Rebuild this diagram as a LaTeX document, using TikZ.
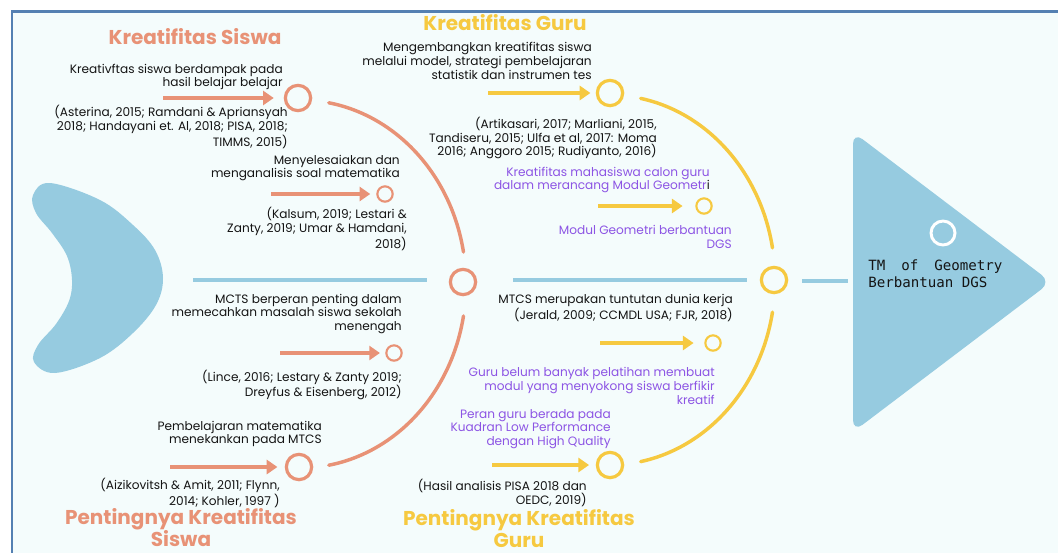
\documentclass[tikz,border=0pt]{standalone}
\usepackage{fontspec}
\setmainfont{Poppins}
\newfontfamily\tmfont{DejaVu Sans Mono}
\usetikzlibrary{arrows.meta,calc}
\definecolor{bg}{RGB}{244,252,252}
\definecolor{framec}{RGB}{84,128,178}
\definecolor{sky}{RGB}{150,203,224}
\definecolor{salmon}{RGB}{232,146,118}
\definecolor{gold}{RGB}{246,201,64}
\definecolor{violet}{RGB}{140,84,228}
\definecolor{ink}{RGB}{20,20,20}
\begin{document}
\begin{tikzpicture}[x=0.75pt,y=-0.75pt,
  body/.style={font=\fontsize{9.1}{10.2}\selectfont, text=ink, align=right, anchor=east, inner sep=0pt},
  purp/.style={body, text=violet},
  titletext/.style={font=\fontsize{15}{16.5}\selectfont\bfseries, align=center, inner sep=0pt},
  bigO/.style={circle, draw=salmon, line width=2.4pt, minimum size=19pt, inner sep=0pt},
  smallO/.style={circle, draw=salmon, line width=1.6pt, minimum size=11.5pt, inner sep=0pt},
  bigY/.style={circle, draw=gold, line width=2.4pt, minimum size=19pt, inner sep=0pt},
  smallY/.style={circle, draw=gold, line width=1.6pt, minimum size=11.5pt, inner sep=0pt},
  arrO/.style={draw=salmon, line width=3.6pt, -{Triangle[length=8pt,width=10.5pt]}},
  arrY/.style={draw=gold, line width=3.6pt, -{Triangle[length=8pt,width=10.5pt]}},
  arcO/.style={draw=salmon, line width=2.6pt, line cap=round},
  arcY/.style={draw=gold, line width=2.6pt, line cap=round},
  spine/.style={draw=sky, line width=2.4pt},
]
\useasboundingbox (0,0) rectangle (1058,553);
% background and frame
\fill[white] (0,0) rectangle (1058,553);
\fill[bg] (12,12) rectangle (1058,553);
\draw[framec, line width=1.6pt] (12,553) -- (12,11.5) -- (1058,11.5);

% fish tail
\fill[sky] plot[smooth cycle, tension=0.6] coordinates {
  (50,183) (100,200) (133,225) (155,250) (163,278) (156,305) (133,333)
  (100,358) (55,373) (34,362) (38,345) (56,324) (69,301) (72,280)
  (67,256) (52,233) (36,213) (33,195)};

% fish head
\fill[sky, rounded corners=9pt] (853,132) -- (1051,282) -- (853,432) -- cycle;
\node[circle, draw=white, line width=2.2pt, minimum size=18pt, inner sep=0pt] (headc) at (943,233) {};
\node[font=\tmfont\fontsize{10.6}{12.8}\selectfont, text=ink, align=left, anchor=west, inner sep=0pt] (head) at (868,274)
  {TM\hspace{12pt}of\hspace{12pt}Geometry\\Berbantuan DGS};

% spine
\coordinate (sa) at (193,280); \coordinate (sb) at (427,280);
\coordinate (sc) at (513,280); \coordinate (sd) at (747,280);
\coordinate (se) at (802,281); \coordinate (sf) at (848,281);
\draw[spine] (sa) -- (sb);
\draw[spine] (sc) -- (sd);
\draw[spine] (se) -- (sf);

% circles
\node[bigO] (oTop) at (298,98) {};
\node[smallO] (oS1) at (385,194) {};
\node[bigO] (oMid) at (463,282) {};
\node[smallO] (oS2) at (394,353) {};
\node[bigO] (oBot) at (299,467) {};
\node[bigY] (yTop) at (610,93) {};
\node[smallY] (yS1) at (704,206) {};
\node[bigY] (yMid) at (774,280) {};
\node[smallY] (yS2) at (713,343) {};
\node[bigY] (yBot) at (610,465) {};

% arcs
\coordinate (oE) at (300,284);
\coordinate (yE) at (609,280);
\draw[arcO] (oE) ++(-80:166 and 184) arc[start angle=-80, end angle=-10, x radius=166, y radius=184];
\draw[arcO] (oE) ++(10:166 and 184) arc[start angle=10, end angle=80, x radius=166, y radius=184];
\draw[arcY] (yE) ++(-79:166 and 185) arc[start angle=-79, end angle=-10, x radius=166, y radius=185];
\draw[arcY] (yE) ++(10:166 and 185) arc[start angle=10, end angle=79, x radius=166, y radius=185];

% arrows
\coordinate (a1) at (163,98);
\coordinate (a2) at (271,194);
\coordinate (a3) at (280,353);
\coordinate (a4) at (170,467);
\coordinate (b1) at (488,93);
\coordinate (b2) at (598,206);
\coordinate (b3) at (600,343);
\coordinate (b4) at (492,465);
\draw[arrO, shorten >=7.5pt] (a1) -- (oTop);
\draw[arrO, shorten >=4.5pt] (a2) -- (oS1);
\draw[arrO, shorten >=4pt] (a3) -- (oS2);
\draw[arrO, shorten >=5.5pt] (a4) -- (oBot);
\draw[arrY, shorten >=4pt] (b1) -- (yTop);
\draw[arrY, shorten >=9.5pt] (b2) -- (yS1);
\draw[arrY, shorten >=8pt] (b3) -- (yS2);
\draw[arrY, shorten >=5pt] (b4) -- (yBot);

% titles
\node[titletext, text=salmon] (t1) at (195,37) {Kreatifitas Siswa};
\node[titletext, text=gold] (t2) at (505,23) {Kreatifitas Guru};
\node[titletext, text=salmon] (t3) at (181,528) {Pentingnya Kreatifitas\\Siswa};
\node[titletext, text=gold] (t4) at (519,529) {Pentingnya Kreatifitas\\Guru};

% orange side texts
\node[body] (tx1) at (283,77) {Kreativftas siswa berdampak pada\\hasil belajar belajar};
\node[body] (tx2) at (288,127) {(Asterina, 2015; Ramdani \& Apriansyah\\2018; Handayani et. Al, 2018; PISA, 2018;\\TIMMS, 2015)};
\node[body] (tx3) at (400,168) {Menyelesaiakan dan\\menganalisis soal matematika};
\node[body] (tx4) at (407,229) {(Kalsum, 2019; Lestari \&\\Zanty, 2019; Umar \& Hamdani,\\2018)};
\node[body] (tx5) at (402,314) {MCTS berperan penting dalam\\memecahkan masalah siswa sekolah\\menengah};
\node[body] (tx6) at (402,385) {(Lince, 2016; Lestary \& Zanty 2019;\\Dreyfus \& Eisenberg, 2012)};
\node[body] (tx7) at (322,434) {Pembelajaran matematika\\menekankan pada MTCS};
\node[body] (tx8) at (280,493) {(Aizikovitsh \& Amit, 2011; Flynn,\\2014; Kohler, 1997 )};

% yellow side texts
\node[body] (ty1) at (592,61) {Mengembangkan kreatifitas siswa\\melalui model, strategi pembelajaran\\statistik dan instrumen tes};
\node[body] (ty2) at (657,138) {(Artikasari, 2017; Marliani, 2015,\\Tandiseru, 2015; Ulfa et al, 2017: Moma\\2016; Anggoro 2015; Rudiyanto, 2016)};
\node[purp] (ty3) at (710,180) {Kreatifitas mahasiswa calon guru\\dalam merancang Modul Geometr\textcolor{ink}{i}};
\node[purp] (ty4) at (732,237) {Modul Geometri berbantuan\\DGS};
\node[body] (ty5) at (733,308) {MTCS merupakan tuntutan dunia kerja\\(Jerald, 2009; CCMDL USA; FJR, 2018)};
\node[purp] (ty6) at (715,386) {Guru belum banyak pelatihan membuat\\modul yang menyokong siswa berfikir\\kreatif};
\node[purp] (ty7) at (611,429) {Peran guru berada pada\\Kuadran Low Performance\\dengan High Quality};
\node[body] (ty8) at (587,493) {(Hasil analisis PISA 2018 dan\\OEDC, 2019)};
\end{tikzpicture}
\end{document}
